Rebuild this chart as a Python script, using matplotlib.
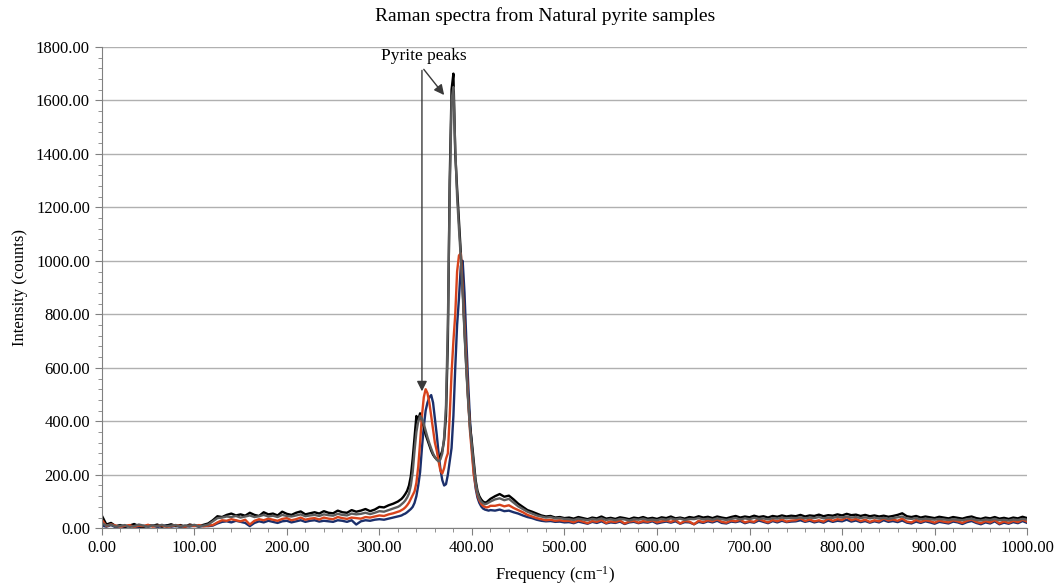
import numpy as np
import matplotlib
matplotlib.use('Agg')
import matplotlib.pyplot as plt
from matplotlib.ticker import MultipleLocator, FormatStrFormatter

plt.rcParams['font.family'] = ['Liberation Serif', 'DejaVu Serif']
plt.rcParams['mathtext.fontset'] = 'custom'
plt.rcParams['mathtext.rm'] = 'Liberation Serif'
plt.rcParams['mathtext.it'] = 'Liberation Serif:italic'

# sample positions (cm-1): coarse on the baseline, finer around the peaks
freq = np.concatenate([np.arange(0, 321, 5), np.arange(322, 421, 2), np.arange(425, 1001, 5)])

# intensities, split by region (0-320, 322-420, 425-1000)
black_a = [48, 14, 20, 8, 12, 6, 10, 16, 8, 5,
           12, 9, 14, 6, 10, 15, 8, 12, 6, 14,
           10, 8, 13, 18, 30, 45, 42, 50, 55, 48,
           52, 47, 58, 50, 46, 60, 52, 55, 48, 62,
           54, 50, 58, 63, 52, 56, 60, 55, 64, 58,
           56, 66, 60, 58, 68, 62, 66, 72, 64, 70,
           80, 78, 86, 92, 100]
black_b = [105, 110, 118, 128, 140, 160, 195, 260, 340, 420,
           405, 430, 400, 380, 350, 330, 310, 290, 275, 265,
           258, 262, 270, 290, 330, 420, 700, 1300, 1640, 1700,
           1400, 1270, 1150, 1030, 900, 740, 600, 480, 380, 320,
           250, 180, 140, 120, 108, 100, 96, 98, 104, 110]
black_c = [120, 128, 118, 122, 108, 92, 80, 68, 62, 55, 48, 44, 46, 40, 42, 38,
           40, 36, 42, 38, 34, 40, 37, 44, 36, 39,
           35, 41, 38, 34, 40, 37, 42, 36, 39, 35,
           41, 38, 44, 37, 40, 36, 42, 39, 45, 40,
           43, 38, 44, 40, 37, 42, 46, 40, 44, 41,
           47, 42, 45, 40, 46, 43, 48, 44, 47, 45,
           50, 44, 48, 46, 51, 45, 49, 47, 52, 48,
           54, 49, 51, 46, 50, 45, 48, 44, 47, 43,
           46, 50, 56, 45, 42, 46, 40, 44, 41, 38,
           43, 40, 37, 42, 39, 36, 41, 44, 38, 35,
           40, 37, 42, 36, 39, 35, 40, 37, 43, 38]

gray_a = [20, 10, 14, 6, 9, 12, 5, 8, 14, 10,
          6, 11, 8, 13, 7, 10, 12, 6, 11, 8,
          13, 7, 10, 14, 26, 38, 40, 44, 42, 46,
          40, 44, 48, 42, 45, 50, 44, 47, 42, 50,
          46, 44, 48, 52, 45, 48, 50, 46, 52, 49,
          47, 54, 50, 48, 55, 52, 54, 58, 53, 58,
          64, 62, 68, 74, 80]
gray_b = [84, 90, 96, 104, 115, 130, 160, 210, 290, 360,
          400, 420, 410, 390, 365, 340, 318, 298, 280, 266,
          256, 250, 258, 280, 340, 460, 760, 1250, 1600, 1650,
          1420, 1240, 1120, 1010, 880, 730, 590, 470, 370, 305,
          235, 170, 132, 112, 100, 94, 90, 92, 96, 100]
gray_c = [108, 112, 105, 110, 96, 82, 72, 62, 55, 48, 44, 40, 42, 37, 38, 35,
          34, 31, 36, 33, 30, 35, 32, 37, 31, 34,
          30, 35, 33, 29, 34, 32, 36, 31, 33, 30,
          35, 32, 37, 33, 36, 31, 35, 34, 38, 33,
          36, 32, 37, 34, 31, 35, 38, 33, 37, 34,
          39, 35, 37, 33, 38, 36, 40, 37, 39, 38,
          41, 37, 40, 38, 42, 37, 40, 39, 43, 40,
          44, 40, 42, 38, 41, 37, 40, 36, 39, 35,
          38, 41, 44, 37, 35, 38, 33, 36, 34, 32,
          35, 33, 31, 34, 32, 30, 34, 36, 31, 29,
          33, 31, 35, 30, 32, 29, 33, 31, 35, 32]

red_a = [32, 8, 15, 10, 6, 9, 12, 5, 10, 8,
         13, 6, 9, 11, 5, 8, 12, 9, 6, 10,
         8, 12, 7, 10, 12, 22, 30, 28, 34, 30,
         26, 32, 14, 28, 34, 30, 36, 32, 28, 35,
         38, 30, 34, 40, 32, 36, 38, 33, 40, 36,
         34, 42, 38, 35, 40, 38, 36, 42, 40, 44,
         48, 46, 52, 56, 62]
red_b = [64, 68, 72, 78, 86, 96, 110, 124, 138, 170,
         230, 320, 420, 490, 520, 505, 470, 420, 370, 320,
         290, 250, 215, 205, 225, 260, 280, 420, 580, 700,
         800, 960, 1020, 1028, 900, 760, 620, 480, 360, 280,
         200, 160, 125, 105, 92, 84, 80, 78, 80, 84]
red_c = [84, 88, 82, 86, 76, 68, 60, 50, 44, 38, 34, 30, 32, 28, 30, 27,
         28, 22, 30, 25, 19, 27, 24, 31, 20, 26,
         23, 29, 18, 25, 28, 21, 27, 24, 30, 22,
         26, 29, 24, 31, 18, 27, 25, 15, 28, 23,
         30, 26, 33, 24, 21, 29, 26, 32, 22, 27,
         24, 35, 28, 22, 31, 26, 33, 25, 29, 30,
         38, 27, 33, 26, 30, 25, 36, 28, 34, 31,
         42, 30, 35, 27, 32, 24, 30, 26, 37, 29,
         33, 28, 36, 25, 22, 31, 24, 30, 27, 21,
         29, 25, 22, 30, 26, 20, 28, 33, 24, 19,
         27, 22, 31, 18, 26, 20, 28, 23, 32, 25]

navy_a = [10, 6, 12, 4, 8, 5, 10, 7, 4, 9,
          6, 10, 5, 8, 11, 6, 9, 5, 8, 7,
          10, 6, 9, 8, 10, 18, 24, 26, 22, 28,
          24, 20, 8, 20, 26, 22, 28, 24, 20, 26,
          28, 22, 26, 30, 24, 28, 30, 25, 28, 26,
          24, 30, 28, 24, 30, 14, 26, 30, 28, 32,
          34, 32, 36, 40, 44]
navy_b = [46, 48, 52, 55, 60, 66, 72, 80, 95, 120,
          160, 210, 300, 380, 440, 470, 490, 498, 470, 410,
          350, 280, 220, 180, 160, 165, 200, 250, 300, 420,
          600, 760, 860, 980, 1000, 880, 700, 540, 400, 300,
          210, 150, 115, 95, 82, 74, 70, 68, 66, 68]
navy_c = [66, 70, 64, 66, 60, 55, 48, 42, 38, 32, 28, 26, 27, 24, 25, 22,
          23, 19, 25, 21, 17, 24, 20, 26, 18, 22,
          20, 25, 16, 22, 24, 19, 23, 21, 26, 18,
          22, 25, 21, 26, 17, 23, 22, 15, 24, 20,
          26, 22, 28, 20, 18, 25, 23, 27, 19, 24,
          21, 29, 24, 19, 27, 22, 28, 23, 25, 26,
          30, 24, 28, 22, 26, 21, 29, 24, 28, 26,
          32, 25, 29, 23, 27, 21, 26, 22, 30, 24,
          27, 23, 29, 21, 18, 25, 20, 26, 22, 17,
          24, 21, 18, 25, 22, 16, 23, 27, 20, 15,
          22, 18, 26, 15, 21, 17, 23, 19, 27, 20]

black = black_a + black_b + black_c
gray = gray_a + gray_b + gray_c
red = red_a + red_b + red_c
navy = navy_a + navy_b + navy_c

fig = plt.figure(figsize=(10.6, 5.86), dpi=100)
ax = fig.add_axes([0.096, 0.0985, 0.873, 0.8215])

ax.plot(freq, navy, color='#1b2f6b', lw=1.7)
ax.plot(freq, black, color='#000000', lw=1.7)
ax.plot(freq, red, color='#d8431c', lw=1.7)
ax.plot(freq, gray, color='#5c5c5c', lw=1.7)

ax.set_xlim(0, 1000)
ax.set_ylim(0, 1800)
ax.xaxis.set_major_locator(MultipleLocator(100))
ax.xaxis.set_minor_locator(MultipleLocator(20))
ax.yaxis.set_major_locator(MultipleLocator(200))
ax.yaxis.set_minor_locator(MultipleLocator(40))
ax.xaxis.set_major_formatter(FormatStrFormatter('%.2f'))
ax.yaxis.set_major_formatter(FormatStrFormatter('%.2f'))
ax.tick_params(axis='both', which='major', labelsize=12, length=5, color='#808080')
ax.tick_params(axis='both', which='minor', length=3, color='#808080')
ax.grid(axis='y', which='major', color='#b0b0b0', lw=1)
ax.set_axisbelow(True)
for s in ['top', 'right']:
    ax.spines[s].set_visible(False)
for s in ['left', 'bottom']:
    ax.spines[s].set_color('#808080')

fig.text(0.514, 0.973, 'Raman spectra from Natural pyrite samples', fontsize=14,
         ha='center', va='center')
ax.set_xlabel('Frequency (cm$^{\\mathrm{-1}}$)', fontsize=12)
ax.xaxis.set_label_coords(0.49, -0.075)
ax.set_ylabel('Intensity (counts)', fontsize=12, labelpad=6)

# annotation
ax.text(348, 1765, 'Pyrite peaks', ha='center', va='center', fontsize=12.5)
arr = dict(arrowstyle='-|>', color='#3a3a3a', lw=1, mutation_scale=15, shrinkA=0, shrinkB=0)
ax.annotate('', xy=(346, 512), xytext=(346, 1712), arrowprops=arr)
ax.annotate('', xy=(370, 1620), xytext=(348, 1716), arrowprops=arr)

fig.savefig('out.png', dpi=100)
